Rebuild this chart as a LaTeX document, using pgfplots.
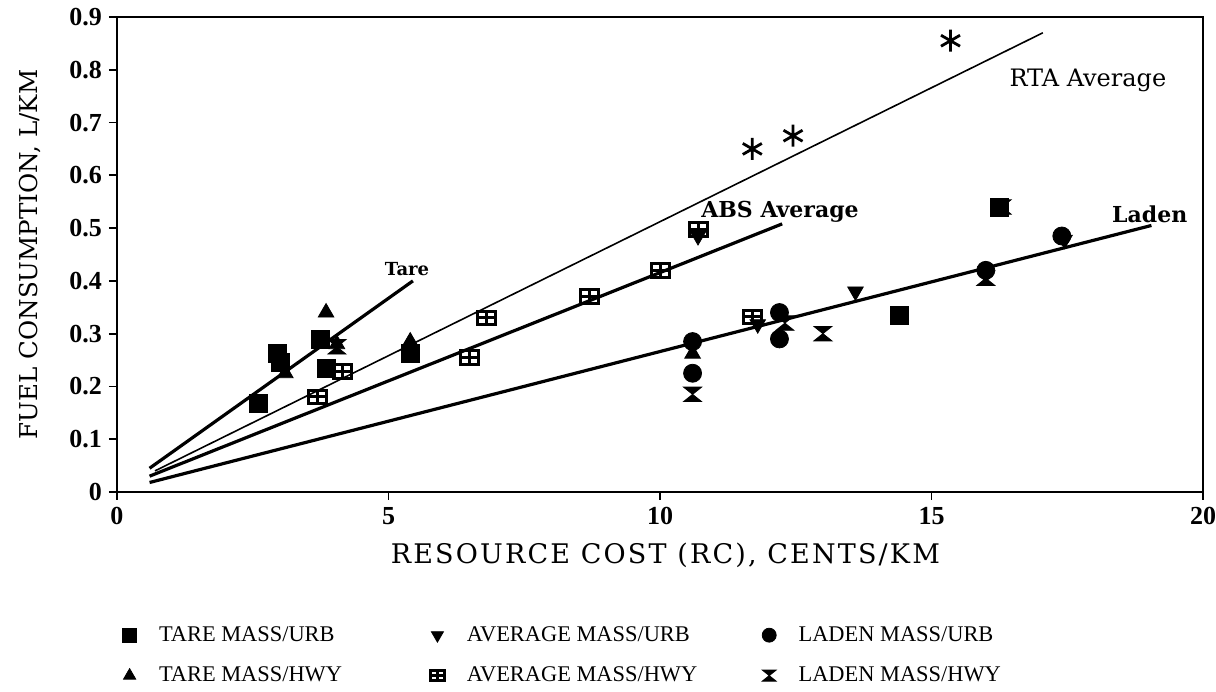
\documentclass[border=0pt]{standalone}
\usepackage{fontspec}
\setmainfont{Liberation Serif}
\newfontfamily\labfont{DejaVu Serif}
\newfontfamily\labfontwide[LetterSpace=8]{DejaVu Serif}
\usepackage{pgfplots}
\pgfplotsset{compat=1.18}

\pgfdeclareplotmark{hourglass}{%
 \pgfpathmoveto{\pgfqpoint{-\pgfplotmarksize}{0.8\pgfplotmarksize}}%
 \pgfpathlineto{\pgfqpoint{\pgfplotmarksize}{0.8\pgfplotmarksize}}%
 \pgfpathlineto{\pgfqpoint{-\pgfplotmarksize}{-0.8\pgfplotmarksize}}%
 \pgfpathlineto{\pgfqpoint{\pgfplotmarksize}{-0.8\pgfplotmarksize}}%
 \pgfpathclose
 \pgfusepathqfillstroke}
\pgfdeclareplotmark{boxplus}{%
 \pgfpathrectangle{\pgfqpoint{-\pgfplotmarksize}{-0.75\pgfplotmarksize}}{\pgfqpoint{2\pgfplotmarksize}{1.5\pgfplotmarksize}}%
 \pgfpathmoveto{\pgfqpoint{-\pgfplotmarksize}{0pt}}\pgfpathlineto{\pgfqpoint{\pgfplotmarksize}{0pt}}%
 \pgfpathmoveto{\pgfqpoint{0pt}{-0.75\pgfplotmarksize}}\pgfpathlineto{\pgfqpoint{0pt}{0.75\pgfplotmarksize}}%
 \pgfusepathqstroke}

\begin{document}
\begin{tikzpicture}
\begin{axis}[name=ax,
  scale only axis, width=543pt, height=237.5pt,
  xmin=0, xmax=20, ymin=0, ymax=0.9,
  xtick={0,5,10,15,20},
  ytick={0,0.1,0.2,0.3,0.4,0.5,0.6,0.7,0.8,0.9},
  tick align=outside, xtick pos=bottom, ytick pos=left,
  major tick length=4pt,
  axis line style={line width=1.3pt},
  tick style={line width=0.9pt, black},
  ticklabel style={font=\bfseries\fontsize{13}{15}\selectfont},
  /pgf/number format/assume math mode=true,
  yticklabel style={/pgf/number format/fixed, /pgf/number format/precision=1},
  xlabel={\labfontwide RESOURCE COST (RC), CENTS/KM},
  ylabel={\labfont FUEL CONSUMPTION, L/KM},
  xlabel style={font=\fontsize{13.5}{15}\selectfont, at={(axis description cs:0.505,-0.133)}, anchor=center},
  ylabel style={font=\fontsize{12.3}{14}\selectfont, at={(axis description cs:-0.080,0.5)}, anchor=center},
  legend columns=3,
  legend cell align=left,
  legend style={draw=none, fill=none, at={(axis description cs:-0.002,-0.265)}, anchor=north west,
    font=\fontsize{11.2}{13}\selectfont, row sep=7.3pt,
    /tikz/every even column/.append style={column sep=0pt}},
  legend image code/.code={\draw[#1, mark size=3.5pt] plot coordinates {(0pt,0pt)}; \path (-4pt,0pt) (12.5pt,0pt);},
  mark size=4.5pt,
]
% fitted lines
\addplot[forget plot, black, line width=1.6pt] coordinates {(0.6,0.045) (5.45,0.40)};
\addplot[forget plot, black, line width=0.8pt] coordinates {(0.7,0.04) (17.05,0.87)};
\addplot[forget plot, black, line width=1.6pt] coordinates {(0.6,0.03) (12.25,0.508)};
\addplot[forget plot, black, line width=1.6pt] coordinates {(0.6,0.018) (19.05,0.505)};

% TARE MASS/URB
\addplot[only marks, mark=square*, black] coordinates {
 (2.6,0.168) (2.95,0.262) (3.0,0.245) (3.75,0.29) (3.85,0.235) (5.4,0.262) (14.4,0.335) (16.25,0.54)};
\addlegendentry{\makebox[133pt][l]{TARE MASS/URB}}
% AVERAGE MASS/URB
\addplot[only marks, mark=triangle*, mark options={rotate=180}, black] coordinates {
 (10.7,0.485) (11.8,0.318) (13.6,0.38) (16.0,0.412) (17.45,0.478)};
\addlegendentry{\makebox[145pt][l]{AVERAGE MASS/URB}}
% LADEN MASS/URB
\addplot[only marks, mark=*, black] coordinates {
 (10.6,0.285) (10.6,0.225) (12.2,0.34) (12.2,0.29) (16.0,0.42) (17.4,0.485)};
\addlegendentry{LADEN MASS/URB}
% TARE MASS/HWY
\addplot[only marks, mark=triangle*, black] coordinates {
 (3.1,0.225) (3.85,0.34) (4.05,0.28) (5.4,0.285) (10.6,0.262)};
\addlegendentry{TARE MASS/HWY}
% AVERAGE MASS/HWY
\addplot[only marks, mark=boxplus, mark options={line width=1.5pt, fill=white}, black] coordinates {
 (3.7,0.18) (4.15,0.228) (6.5,0.255) (6.8,0.33) (8.7,0.37) (10.0,0.42) (10.7,0.497) (11.7,0.332)};
\addlegendentry{AVERAGE MASS/HWY}
% LADEN MASS/HWY
\addplot[only marks, mark=hourglass, black] coordinates {
 (10.6,0.185) (12.3,0.32) (13.0,0.30) (16.0,0.405) (16.3,0.54) (4.05,0.275)};
\addlegendentry{LADEN MASS/HWY}
% RTA points
\addplot[forget plot, only marks, mark=asterisk, mark size=5.5pt, mark options={line width=1.4pt}, black] coordinates {
 (11.7,0.65) (12.45,0.675) (15.35,0.855)};

\node[font=\labfont\bfseries\fontsize{9}{11}\selectfont] at (axis cs:5.34,0.423) {Tare};
\node[font=\labfont\bfseries\fontsize{11}{13}\selectfont] at (axis cs:12.21,0.531) {ABS Average};
\node[font=\labfont\fontsize{12}{14}\selectfont] at (axis cs:17.88,0.779) {RTA Average};
\node[font=\labfont\bfseries\fontsize{11}{13}\selectfont] at (axis cs:19.02,0.527) {Laden};
\end{axis}
\pgfresetboundingbox
\path ([xshift=-58.5pt,yshift=-100pt]ax.south west) rectangle ([xshift=6.5pt,yshift=8.5pt]ax.north east);
\end{tikzpicture}
\end{document}
